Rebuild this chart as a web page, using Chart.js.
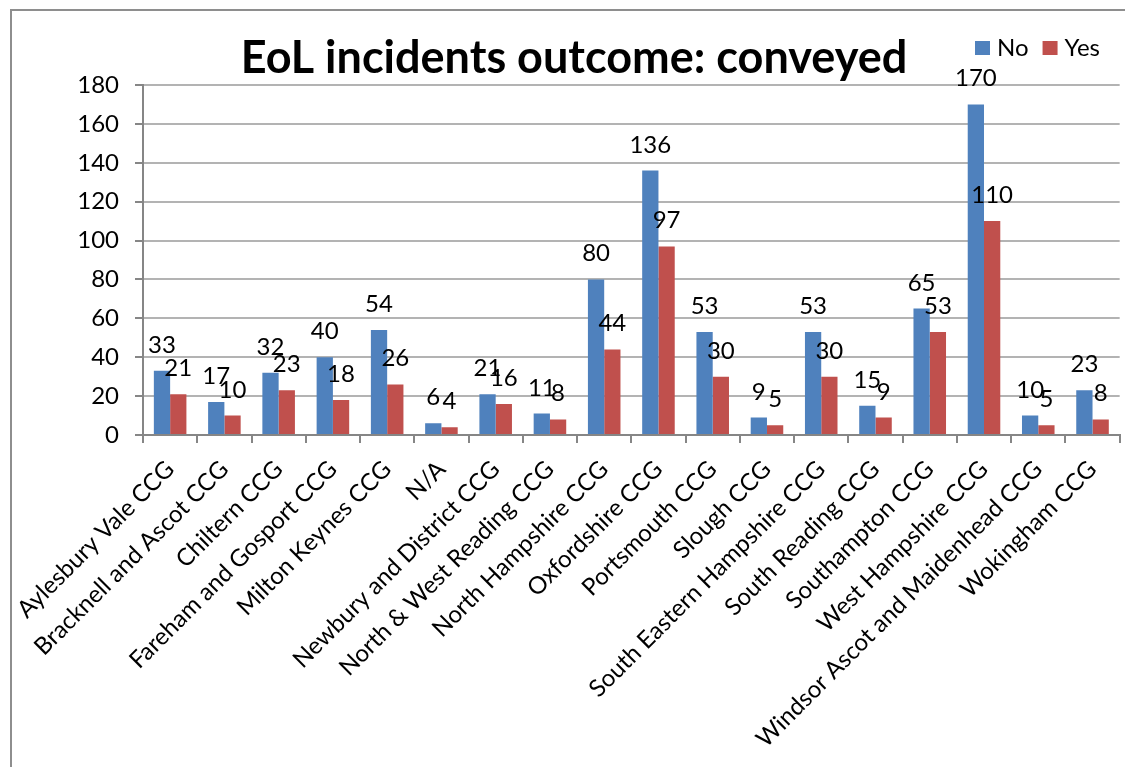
<!DOCTYPE html>
<html>
<head>
<meta charset="utf-8">
<script src="https://cdn.jsdelivr.net/npm/chart.js@4.4.0/dist/chart.umd.min.js"></script>
<style>
html, body { margin: 0; padding: 0; background: #fff; overflow: hidden; }
#wrap { position: relative; width: 1125px; height: 767px; }
#frame { position: absolute; left: 10px; top: 9px; width: 1200px; height: 800px; border: 2px solid #8e8e8e; box-sizing: border-box; }
canvas { position: absolute; left: 0; top: 0; }
</style>
</head>
<body>
<div id="wrap"><div id="frame"></div><canvas id="c" width="1125" height="767"></canvas></div>
<script>
const categories = ['Aylesbury Vale CCG', 'Bracknell and Ascot CCG', 'Chiltern CCG', 'Fareham and Gosport CCG',
  'Milton Keynes CCG', 'N/A', 'Newbury and District CCG', 'North & West Reading CCG', 'North Hampshire CCG',
  'Oxfordshire CCG', 'Portsmouth CCG', 'Slough CCG', 'South Eastern Hampshire CCG', 'South Reading CCG',
  'Southampton CCG', 'West Hampshire CCG', 'Windsor Ascot and Maidenhead CCG', 'Wokingham CCG'];
const noValues = [33, 17, 32, 40, 54, 6, 21, 11, 80, 136, 53, 9, 53, 15, 65, 170, 10, 23];
const yesValues = [21, 10, 23, 18, 26, 4, 16, 8, 44, 97, 30, 5, 30, 9, 53, 110, 5, 8];
const yTicks = [0, 20, 40, 60, 80, 100, 120, 140, 160, 180];
const chartTitle = 'EoL incidents outcome: conveyed';

const FONT = 'Lato, "Open Sans", sans-serif';

// title + legend drawn on one row like the original
const headerPlugin = {
  id: 'header',
  afterDraw(chart) {
    const ctx = chart.ctx;
    ctx.save();
    ctx.fillStyle = '#000';
    ctx.font = 'bold 45px ' + FONT;
    ctx.textAlign = 'center';
    ctx.textBaseline = 'alphabetic';
    ctx.fillText(chartTitle, 574, 73);

    ctx.font = '24px ' + FONT;
    ctx.textAlign = 'left';
    let x = 975;
    chart.data.datasets.forEach(ds => {
      ctx.fillStyle = ds.backgroundColor;
      ctx.fillRect(x, 41, 15, 14);
      ctx.fillStyle = '#000';
      ctx.fillText(ds.label, x + 22, 56);
      x += 22 + ctx.measureText(ds.label).width + 14;
    });
    ctx.restore();
  }
};

const valueLabels = {
  id: 'valueLabels',
  afterDatasetsDraw(chart) {
    const ctx = chart.ctx;
    ctx.save();
    ctx.fillStyle = '#000';
    ctx.font = '24px ' + FONT;
    ctx.textAlign = 'center';
    ctx.textBaseline = 'alphabetic';
    chart.data.datasets.forEach((ds, i) => {
      chart.getDatasetMeta(i).data.forEach((bar, j) => {
        ctx.fillText(String(ds.data[j]), bar.x, bar.y - 18);
      });
    });
    ctx.restore();
  }
};

new Chart(document.getElementById('c').getContext('2d'), {
  type: 'bar',
  data: {
    labels: categories,
    datasets: [
      { label: 'No', data: noValues, backgroundColor: '#4F81BD', borderWidth: 0 },
      { label: 'Yes', data: yesValues, backgroundColor: '#C0504D', borderWidth: 0 }
    ]
  },
  options: {
    responsive: false,
    animation: false,
    layout: { padding: { left: 0, right: 4, top: 85, bottom: 0 } },
    datasets: { bar: { categoryPercentage: 0.6, barPercentage: 1.0 } },
    plugins: { legend: { display: false }, title: { display: false }, tooltip: { enabled: false } },
    scales: {
      x: {
        grid: { drawOnChartArea: false, drawTicks: true, tickLength: 8, color: '#868686', lineWidth: 2, offset: true },
        border: { color: '#868686', width: 2 },
        ticks: { color: '#000', font: { family: FONT, size: 24 }, maxRotation: 45, minRotation: 45, autoSkip: false, padding: 12 },
        afterFit(scale) { scale.height = 332; }
      },
      y: {
        min: 0, max: 180,
        afterBuildTicks(scale) { scale.ticks = yTicks.map(v => ({ value: v })); },
        grid: { color: '#b3b3b3', lineWidth: 2, tickLength: 8, tickColor: '#868686' },
        border: { color: '#868686', width: 2 },
        ticks: { color: '#000', font: { family: FONT, size: 24 }, padding: 16 },
        afterFit(scale) { scale.width = 143; }
      }
    }
  },
  plugins: [headerPlugin, valueLabels]
});
</script>
</body>
</html>
